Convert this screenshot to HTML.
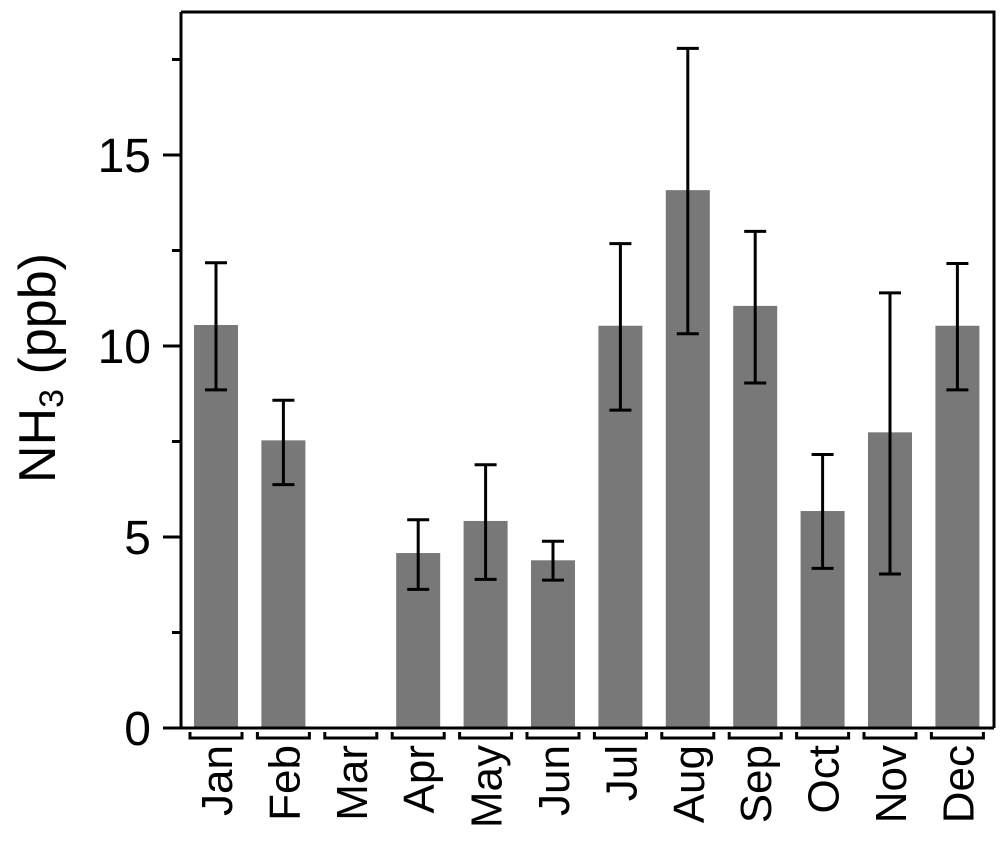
<!DOCTYPE html>
<html><head><meta charset="utf-8"><style>body{margin:0;background:#fff}svg{display:block}text{font-family:"Liberation Sans",sans-serif;fill:#000}</style></head>
<body>
<svg id="chart" width="1007" height="841"></svg>
<script>
const months=["Jan","Feb","Mar","Apr","May","Jun","Jul","Aug","Sep","Oct","Nov","Dec"];
const means=[10.55,7.53,null,4.58,5.42,4.39,10.53,14.08,11.05,5.68,7.74,10.53];
const errHigh=[12.18,8.58,null,5.45,6.89,4.89,12.68,17.79,13.0,7.16,11.39,12.16];
const errLow=[8.85,6.37,null,3.63,3.89,3.87,8.32,10.32,9.03,4.18,4.03,8.85];
const yTicks=[0,5,10,15];
const yMinor=[2.5,7.5,12.5,17.5];
const NS="http://www.w3.org/2000/svg";
const svg=document.getElementById("chart");
const L=181,R=994,T=12,B=728;
const y=v=>B-v*38.2;
const step=67.4,x0=216;
const xc=i=>x0+i*step;
function mk(t,a,p){const e=document.createElementNS(NS,t);for(const k in a)e.setAttribute(k,a[k]);(p||svg).appendChild(e);return e;}
months.forEach((m,i)=>{
  if(means[i]!==null){
    const b=mk("rect",{x:xc(i)-22,y:y(means[i]),width:44,height:B-y(means[i]),fill:"#787878"});
    
    
    const g=mk("g",{stroke:"#000","stroke-width":3});
    
    
    mk("line",{x1:xc(i),x2:xc(i),y1:y(errHigh[i]),y2:y(errLow[i])},g);
    mk("line",{x1:xc(i)-11,x2:xc(i)+11,y1:y(errHigh[i]),y2:y(errHigh[i])},g);
    mk("line",{x1:xc(i)-11,x2:xc(i)+11,y1:y(errLow[i]),y2:y(errLow[i])},g);
  }
  const br=mk("path",{d:`M${xc(i)-26},732 V738 H${xc(i)+26} V732`,stroke:"#000","stroke-width":3,fill:"none"});
  
  
  const t=mk("text",{x:0,y:0,"font-size":44,"text-anchor":"end",transform:`translate(${xc(i)+16},745) rotate(-90)`});
  t.textContent=m;
  
  
});
const fr=mk("path",{d:`M${L},${T} H${R} V${B} M${L},${T} V${B} M163,${B} H${R}`,stroke:"#000","stroke-width":3,fill:"none"});


yTicks.forEach(v=>{
  const l=mk("line",{x1:163,x2:L,y1:y(v),y2:y(v),stroke:"#000","stroke-width":3});
  
  
  const t=mk("text",{x:151,y:y(v)+17,"font-size":48,"text-anchor":"end"});
  t.textContent=v;
  
  
});
yMinor.forEach(v=>{
  const l=mk("line",{x1:172,x2:L,y1:y(v),y2:y(v),stroke:"#000","stroke-width":3});
  
  
});
const yt=mk("text",{x:0,y:0,"font-size":52,"text-anchor":"middle",transform:"translate(55,368) rotate(-90)"});
yt.innerHTML='NH<tspan font-size="34" dy="8">3</tspan><tspan dy="-8"> (ppb)</tspan>';


</script>
</body></html>
